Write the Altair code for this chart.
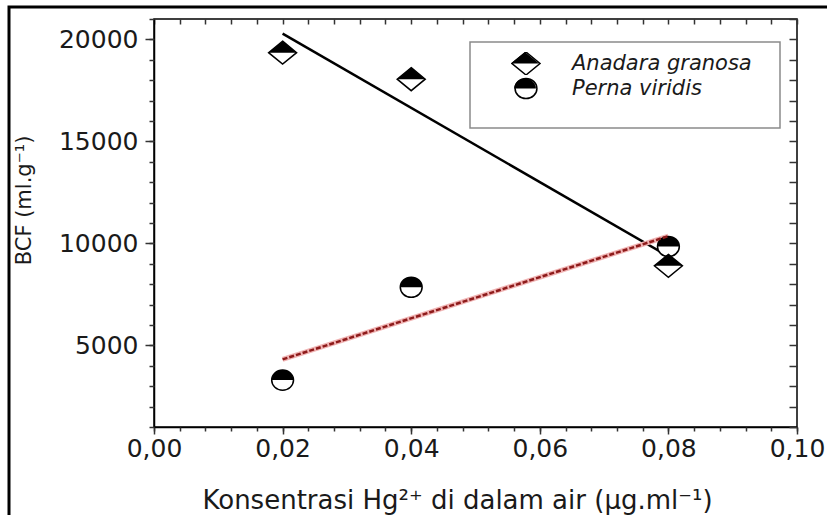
import altair as alt
import pandas as pd

# ---- data ----
conc = [0.02, 0.04, 0.08]
anadara_bcf = [19350, 18050, 8900]
perna_bcf = [3300, 7850, 9850]
species = ["Anadara granosa", "Perna viridis"]

x_major = [0.0, 0.02, 0.04, 0.06, 0.08, 0.10]
x_minor = [0.0, 0.004, 0.008, 0.012, 0.016, 0.02, 0.024, 0.028, 0.032, 0.036,
           0.04, 0.044, 0.048, 0.052, 0.056, 0.06, 0.064, 0.068, 0.072, 0.076,
           0.08, 0.084, 0.088, 0.092, 0.096, 0.10]
y_major = [5000, 10000, 15000, 20000]
y_minor = [1000, 2000, 3000, 4000, 5000, 6000, 7000, 8000, 9000, 10000, 11000,
           12000, 13000, 14000, 15000, 16000, 17000, 18000, 19000, 20000, 21000]

x_title = "Konsentrasi Hg²⁺ di dalam air (μg.ml⁻¹)"
y_title = "BCF (ml.g⁻¹)"

df = pd.DataFrame({
    "species": [species[0]] * len(conc) + [species[1]] * len(conc),
    "conc": conc + conc,
    "bcf": anadara_bcf + perna_bcf,
})

FONT = "DejaVu Sans"
W, H = 643, 408

diamond_full = "M0,-0.82L1,0L0,0.82L-1,0Z"
diamond_top = "M-1,0L0,-0.82L1,0Z"
circle_full = "M-0.78,0A0.78,0.72 0 1,1 0.78,0A0.78,0.72 0 1,1 -0.78,0Z"
circle_top = "M-0.78,0A0.78,0.72 0 0,1 0.78,0Z"

xs = alt.Scale(domain=[0, 0.1], nice=False, zero=False)
ys = alt.Scale(domain=[1000, 21000], nice=False, zero=False)

lab_expr = "replace(format(datum.value, '.2f'), '.', ',')"

ax_bottom = alt.Axis(orient="bottom", values=x_major, tickSize=7, tickWidth=1.5,
                     tickColor="#333", domainColor="black", domainWidth=1.5,
                     labelExpr=lab_expr, labelFont=FONT, labelFontSize=25,
                     labelColor="#1a1a1a", labelPadding=2, grid=False, title=x_title,
                     titleFont=FONT, titleFontSize=26, titleFontWeight="normal",
                     titleColor="#1a1a1a", titleX=303, titleY=73,
                     titleBaseline="middle", titleAnchor="start", titleAlign="center",
                     labelFlush=False, labelOverlap=False)
ax_left = alt.Axis(orient="left", values=y_major, tickSize=9, tickWidth=1.5,
                   tickColor="#333", domainColor="black", domainWidth=1.5, format="d",
                   labelFont=FONT, labelFontSize=25, labelColor="#1a1a1a",
                   labelPadding=7, grid=False, title=y_title, titleFont=FONT,
                   titleFontSize=21, titleFontWeight="normal", titleColor="#1a1a1a",
                   titleX=-130, titleY=181, titleAngle=270, titleBaseline="middle",
                   titleAlign="center", labelFlush=False, labelOverlap=False)
ax_bottom_minor = alt.Axis(orient="bottom", values=x_minor, tickSize=4, tickWidth=1.5,
                           tickColor="#333", domain=False, labels=False, grid=False,
                           title=None)
ax_left_minor = alt.Axis(orient="left", values=y_minor, tickSize=5, tickWidth=1.5,
                         tickColor="#333", domain=False, labels=False, grid=False,
                         title=None)
ax_top = alt.Axis(orient="bottom", offset=-H, values=x_minor, tickSize=5, tickWidth=1.5,
                  tickColor="#333", domain=False, labels=False, grid=False, title=None)
ax_right = alt.Axis(orient="left", offset=-W, values=y_minor, tickSize=8, tickWidth=1.5,
                    tickColor="#333", domain=False, labels=False, grid=False, title=None)

base = alt.Chart(df)

leg_common = dict(orient="none", legendX=357, legendY=33, title=None,
                  labelFont=FONT, labelFontSize=21, labelFontStyle="italic",
                  labelColor="#1a1a1a", labelOffset=31, rowPadding=2, clipHeight=23,
                  labelLimit=400, symbolSize=784, padding=0)

# white backing of the markers (no legend, no axis)
white_pts = base.mark_point(filled=True, color="white", size=784, opacity=1,
                            strokeWidth=0).encode(
    x=alt.X("conc:Q", scale=xs, axis=None),
    y=alt.Y("bcf:Q", scale=ys, axis=None),
    shape=alt.Shape("species:N",
                    scale=alt.Scale(domain=species, range=[diamond_full, circle_full]),
                    legend=None),
)

# outlines (carry the labelled legend and the mirror axes)
outline_pts = base.transform_calculate(so="datum.species").mark_point(
    filled=False, color="black", strokeWidth=1.5, size=784, opacity=1).encode(
    x=alt.X("conc:Q", scale=xs, axis=ax_top),
    y=alt.Y("bcf:Q", scale=ys, axis=ax_right),
    shape=alt.Shape("so:N", sort="ascending",
                    scale=alt.Scale(range=[diamond_full, circle_full]),
                    legend=alt.Legend(symbolStrokeColor="black", symbolStrokeWidth=1.5,
                                      **leg_common)),
)

# black upper halves (second legend over the first, no labels)
half_pts = base.transform_calculate(sp="datum.species").mark_point(
    filled=True, color="black", strokeWidth=0, size=784, opacity=1).encode(
    x=alt.X("conc:Q", scale=xs, axis=None),
    y=alt.Y("bcf:Q", scale=ys, axis=None),
    shape=alt.Shape("sp:N", sort="ascending",
                    scale=alt.Scale(range=[diamond_top, circle_top]),
                    legend=alt.Legend(symbolFillColor="black", symbolStrokeWidth=0,
                                      labelExpr="''", **leg_common)),
)

perna = base.transform_filter(alt.datum.species == species[1]).transform_regression(
    "conc", "bcf")
anadara = base.transform_filter(alt.datum.species == species[0]).transform_regression(
    "conc", "bcf")

red_halo = perna.mark_line(color="#f0b4b4", strokeWidth=5).encode(
    x=alt.X("conc:Q", scale=xs, axis=ax_bottom_minor),
    y=alt.Y("bcf:Q", scale=ys, axis=ax_left_minor),
)
red_dash = perna.mark_line(color="#8e1b1b", strokeWidth=2.5, strokeDash=[5, 2]).encode(
    x=alt.X("conc:Q", scale=xs, axis=None),
    y=alt.Y("bcf:Q", scale=ys, axis=None),
)
black_line = anadara.mark_line(color="black", strokeWidth=2.5).encode(
    x=alt.X("conc:Q", scale=xs, axis=ax_bottom),
    y=alt.Y("bcf:Q", scale=ys, axis=ax_left),
)

one = alt.Chart(pd.DataFrame({"k": [0]}))
legend_box = one.mark_rect(fill="transparent", stroke="#8a8a8a", strokeWidth=1.5).encode(
    x=alt.value(316), x2=alt.value(626), y=alt.value(23), y2=alt.value(109))
frame = one.mark_rect(fill="transparent", stroke="black", strokeWidth=3).encode(
    x=alt.value(-145), x2=alt.value(700), y=alt.value(-12), y2=alt.value(520))

chart = alt.layer(
    frame, legend_box, black_line, red_halo, white_pts, outline_pts, half_pts, red_dash
).resolve_scale(shape="independent").resolve_axis(
    x="independent", y="independent"
).resolve_legend(shape="independent").properties(
    width=W, height=H,
    autosize=alt.AutoSizeParams(type="none"),
    padding={"left": 154, "top": 19, "right": 30, "bottom": 88},
    background="white",
).configure_view(stroke="black", strokeWidth=1.5)

chart.save("out.html", embed_options={"renderer": "svg", "actions": False})
